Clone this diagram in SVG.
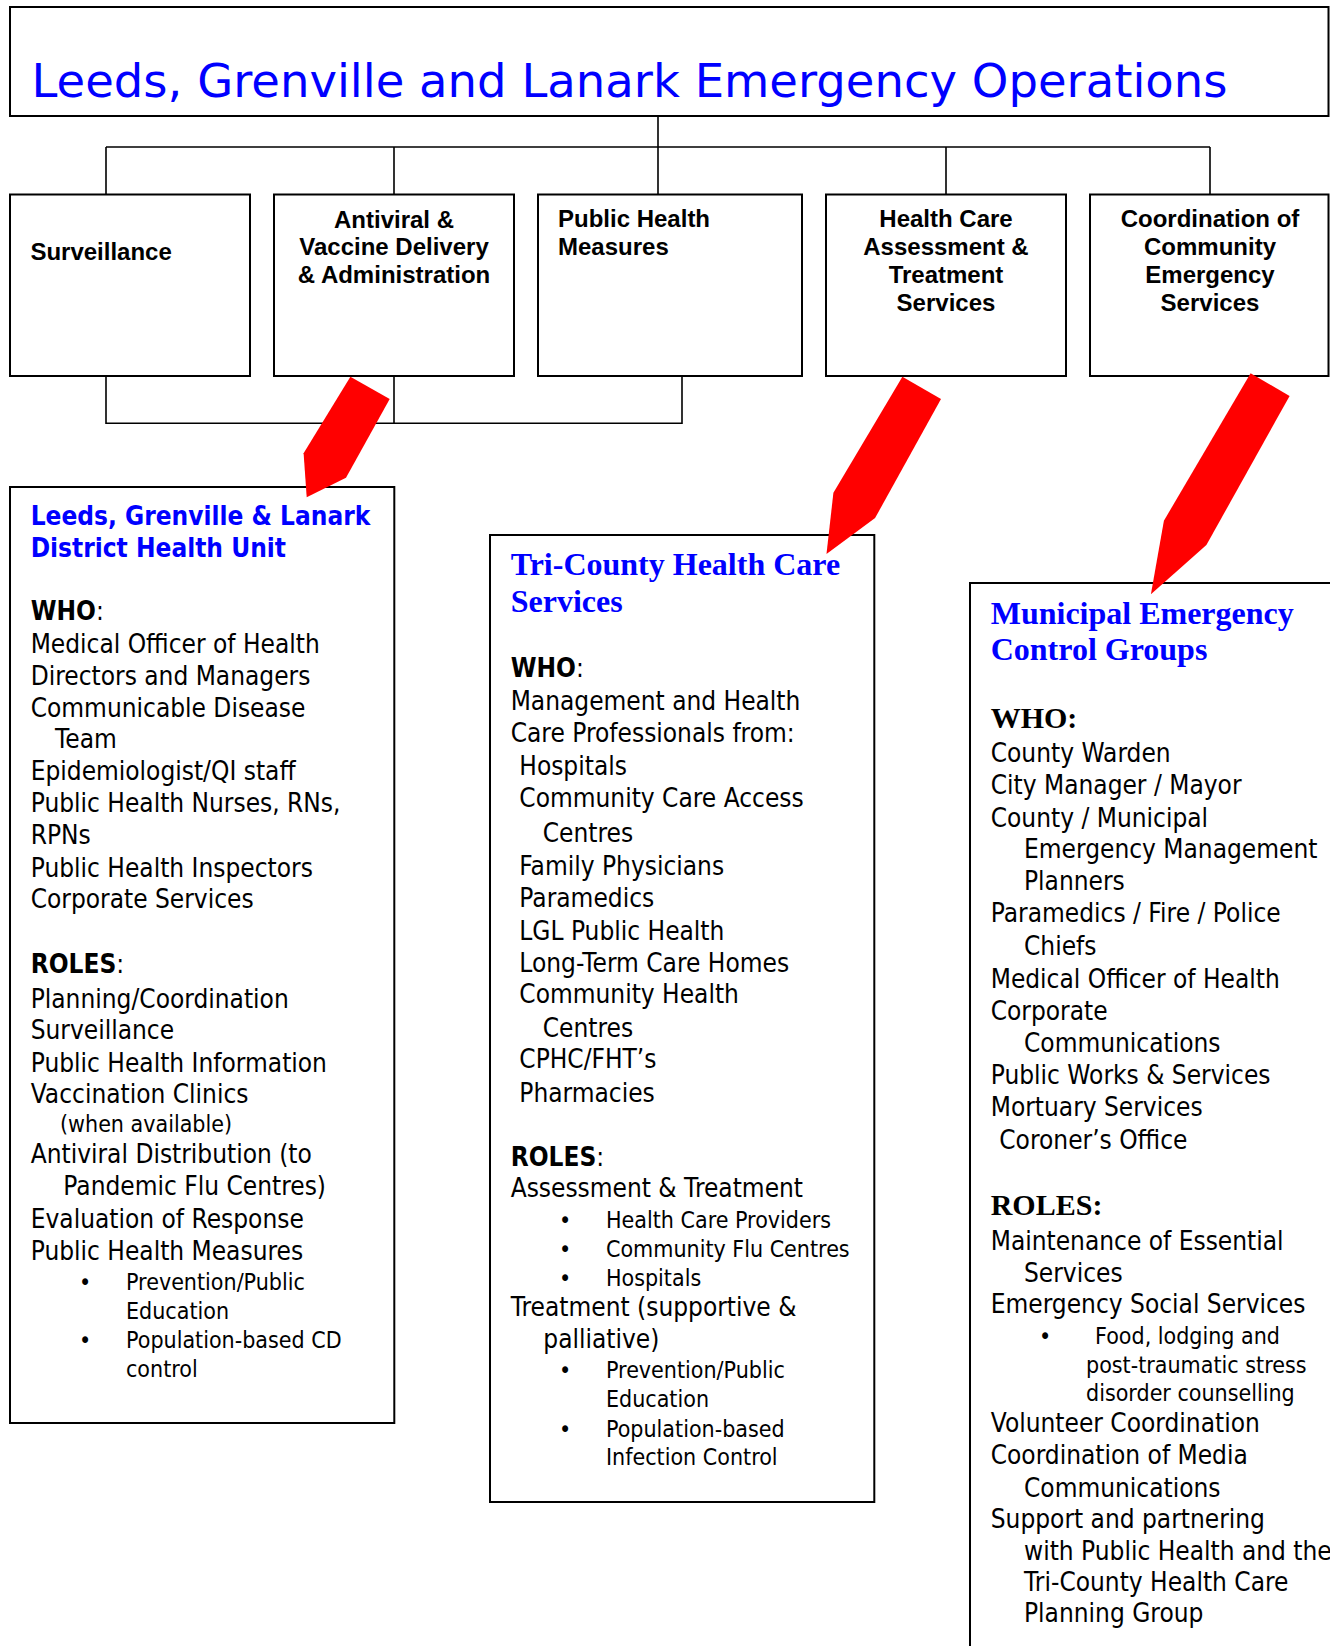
<svg xmlns="http://www.w3.org/2000/svg" width="1330" height="1646" viewBox="0 0 1330 1646">
<style>
.box{fill:#fff;stroke:#000;stroke-width:2}
.conn{fill:none;stroke:#000;stroke-width:1.6}
.arrow{fill:#f00;stroke:none}
.hdr{font-family:"Liberation Sans",Arial,sans-serif;font-weight:bold;font-size:24px;fill:#000}
.mid{text-anchor:middle}
.body{font-family:"DejaVu Sans",Verdana,sans-serif;font-size:26px;fill:#000}
.sm{font-size:23px}
.b{font-weight:bold}
.blue{fill:#00f}
.serif{font-family:"Liberation Serif","Times New Roman",serif;font-weight:bold}
</style>
<rect width="1330" height="1646" fill="#fff"/>

<g id="title">
<rect class="box" x="10" y="7" width="1318.5" height="109"/>
<text x="31.5" y="97" font-family="DejaVu Sans, Verdana, sans-serif" font-size="46" fill="#00f" textLength="1196" lengthAdjust="spacingAndGlyphs">Leeds, Grenville and Lanark Emergency Operations</text>
</g>

<g id="surveillance">
<rect class="box" x="10" y="194.5" width="240" height="181.5"/>
<text class="hdr" x="30.4" y="260">Surveillance</text>
</g>

<g id="antiviral">
<rect class="box" x="274" y="194.5" width="240" height="181.5"/>
<text class="hdr mid" x="394" y="227.5">Antiviral &amp;</text>
<text class="hdr mid" x="394" y="255">Vaccine Delivery</text>
<text class="hdr mid" x="394" y="282.5">&amp; Administration</text>
</g>

<g id="public-health">
<rect class="box" x="538" y="194.5" width="264" height="181.5"/>
<text class="hdr" x="558" y="227">Public Health</text>
<text class="hdr" x="558" y="254.5">Measures</text>
</g>

<g id="health-care">
<rect class="box" x="826" y="194.5" width="240" height="181.5"/>
<text class="hdr mid" x="946" y="227">Health Care</text>
<text class="hdr mid" x="946" y="255">Assessment &amp;</text>
<text class="hdr mid" x="946" y="283">Treatment</text>
<text class="hdr mid" x="946" y="311">Services</text>
</g>

<g id="coordination">
<rect class="box" x="1090" y="194.5" width="238.5" height="181.5"/>
<text class="hdr mid" x="1210" y="227">Coordination of</text>
<text class="hdr mid" x="1210" y="255">Community</text>
<text class="hdr mid" x="1210" y="283">Emergency</text>
<text class="hdr mid" x="1210" y="311">Services</text>
</g>

<g id="lgl-health-unit">
<rect class="box" x="10" y="487" width="384.3" height="936"/>
<g transform="scale(0.9,1)" class="body">
<text class="b blue" x="34.1" y="525">Leeds, Grenville &amp; Lanark</text>
<text class="b blue" x="34.1" y="556.7">District Health Unit</text>
<text x="34.1" y="620"><tspan class="b">WHO</tspan>:</text>
<text x="34.1" y="653.3">Medical Officer of Health</text>
<text x="34.1" y="685">Directors and Managers</text>
<text x="34.1" y="716.7">Communicable Disease</text>
<text x="61.1" y="748.3">Team</text>
<text x="34.1" y="780">Epidemiologist/QI staff</text>
<text x="34.1" y="812.3">Public Health Nurses, RNs,</text>
<text x="34.1" y="844">RPNs</text>
<text x="34.1" y="876.7">Public Health Inspectors</text>
<text x="34.1" y="908.3">Corporate Services</text>
<text x="34.1" y="973"><tspan class="b">ROLES</tspan>:</text>
<text x="34.1" y="1008.3">Planning/Coordination</text>
<text x="34.1" y="1039.3">Surveillance</text>
<text x="34.1" y="1071.7">Public Health Information</text>
<text x="34.1" y="1103.3">Vaccination Clinics</text>
<text class="sm" x="66.7" y="1131.7">(when available)</text>
<text x="34.1" y="1163.3">Antiviral Distribution (to</text>
<text x="70.3" y="1195">Pandemic Flu Centres)</text>
<text x="34.1" y="1228.3">Evaluation of Response</text>
<text x="34.1" y="1260">Public Health Measures</text>
<text class="sm" x="87.8" y="1290">•</text>
<text class="sm" x="140" y="1290">Prevention/Public</text>
<text class="sm" x="140" y="1319.3">Education</text>
<text class="sm" x="87.8" y="1348.3">•</text>
<text class="sm" x="140" y="1348.3">Population-based CD</text>
<text class="sm" x="140" y="1376.7">control</text>
</g>
</g>

<g id="tri-county">
<rect class="box" x="490" y="535" width="384.3" height="967"/>
<text class="serif blue" font-size="32" x="510.7" y="575">Tri-County Health Care</text>
<text class="serif blue" font-size="32" x="510.7" y="612.3">Services</text>
<g transform="scale(0.9,1)" class="body">
<text x="567.4" y="677.3"><tspan class="b">WHO</tspan>:</text>
<text x="567.4" y="710">Management and Health</text>
<text x="567.4" y="741.7">Care Professionals from:</text>
<text x="577" y="775">Hospitals</text>
<text x="577" y="806.7">Community Care Access</text>
<text x="603" y="841.7">Centres</text>
<text x="577" y="875">Family Physicians</text>
<text x="577" y="906.7">Paramedics</text>
<text x="577" y="940">LGL Public Health</text>
<text x="577" y="971.7">Long-Term Care Homes</text>
<text x="577" y="1003.3">Community Health</text>
<text x="603" y="1036.7">Centres</text>
<text x="577" y="1068.3">CPHC/FHT’s</text>
<text x="577" y="1101.7">Pharmacies</text>
<text x="567.4" y="1165.7"><tspan class="b">ROLES</tspan>:</text>
<text x="567.4" y="1197.3">Assessment &amp; Treatment</text>
<text class="sm" x="621.1" y="1227.7">•</text>
<text class="sm" x="673.3" y="1227.7">Health Care Providers</text>
<text class="sm" x="621.1" y="1256.7">•</text>
<text class="sm" x="673.3" y="1256.7">Community Flu Centres</text>
<text class="sm" x="621.1" y="1285.7">•</text>
<text class="sm" x="673.3" y="1285.7">Hospitals</text>
<text x="567.4" y="1316">Treatment (supportive &amp;</text>
<text x="603.7" y="1348.3">palliative)</text>
<text class="sm" x="621.1" y="1378.3">•</text>
<text class="sm" x="673.3" y="1378.3">Prevention/Public</text>
<text class="sm" x="673.3" y="1407.3">Education</text>
<text class="sm" x="621.1" y="1436.7">•</text>
<text class="sm" x="673.3" y="1436.7">Population-based</text>
<text class="sm" x="673.3" y="1465">Infection Control</text>
</g>
</g>

<g id="municipal">
<rect class="box" x="970" y="583" width="400" height="1100"/>
<text class="serif blue" font-size="32" x="990.7" y="624.3">Municipal Emergency</text>
<text class="serif blue" font-size="32" x="990.7" y="660">Control Groups</text>
<text class="serif" font-size="30" x="990.7" y="727.9">WHO:</text>
<text class="serif" font-size="30" x="990.7" y="1214.9">ROLES:</text>
<g transform="scale(0.9,1)" class="body">
<text x="1100.8" y="761.8">County Warden</text>
<text x="1100.8" y="793.9">City Manager / Mayor</text>
<text x="1100.8" y="827.1">County / Municipal</text>
<text x="1137.8" y="858.2">Emergency Management</text>
<text x="1137.8" y="890.4">Planners</text>
<text x="1100.8" y="922.5">Paramedics / Fire / Police</text>
<text x="1137.8" y="954.6">Chiefs</text>
<text x="1100.8" y="987.9">Medical Officer of Health</text>
<text x="1100.8" y="1020">Corporate</text>
<text x="1137.8" y="1052.1">Communications</text>
<text x="1100.8" y="1084.3">Public Works &amp; Services</text>
<text x="1100.8" y="1116.5">Mortuary Services</text>
<text x="1110.3" y="1148.7">Coroner’s Office</text>
<text x="1100.8" y="1249.7">Maintenance of Essential</text>
<text x="1137.8" y="1281.8">Services</text>
<text x="1100.8" y="1313.1">Emergency Social Services</text>
<text class="sm" x="1154.4" y="1343.7">•</text>
<text class="sm" x="1216.7" y="1343.7">Food, lodging and</text>
<text class="sm" x="1206.7" y="1373.3">post-traumatic stress</text>
<text class="sm" x="1206.7" y="1401.2">disorder counselling</text>
<text x="1100.8" y="1432.5">Volunteer Coordination</text>
<text x="1100.8" y="1463.9">Coordination of Media</text>
<text x="1137.8" y="1496.9">Communications</text>
<text x="1100.8" y="1528.3">Support and partnering</text>
<text x="1137.8" y="1559.6">with Public Health and the</text>
<text x="1137.8" y="1590.9">Tri-County Health Care</text>
<text x="1137.8" y="1622.3">Planning Group</text>
</g>
</g>

<g id="connectors">
<path class="conn" d="M658 116V194.5M106 147H1210M106 147V194.5M394 147V194.5M946 147V194.5M1210 147V194.5"/>
<path class="conn" d="M106 376V423.3H682V376M394 376V423.3"/>
<polygon class="arrow" points="350.4,376.7 389.7,399 346,477.7 306.7,497.3 303.6,453.3"/>
<polygon class="arrow" points="902.4,376.7 941,399 875.1,518 826.5,554 833.4,492.7"/>
<polygon class="arrow" points="1250.6,373.3 1289.6,396 1206.4,545 1150.9,594.3 1163.9,520.7"/>
</g>
</svg>
